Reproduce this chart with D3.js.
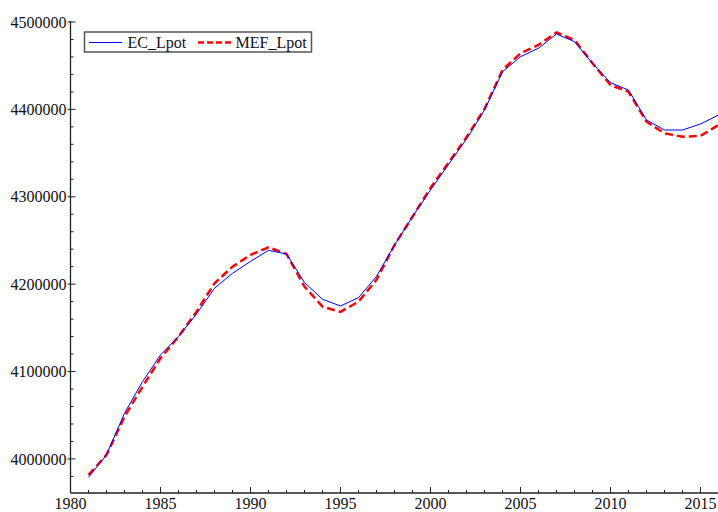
<!DOCTYPE html>
<html>
<head>
<meta charset="utf-8">
<script src="https://cdn.jsdelivr.net/npm/d3@7"></script>
<style>
  body { margin: 0; background: #fff; }
  text { font-family: "Liberation Serif", "Times New Roman", serif; fill: #111; }
</style>
</head>
<body>
<div id="chart"></div>
<script>
const years = d3.range(1981, 2017);

const ecLpot = [
  3979000, 4004600, 4052300, 4088400, 4119000, 4140000, 4165900, 4195300, 4212400, 4226000,
  4238700, 4234500, 4201900, 4182700, 4175000, 4184600, 4208900, 4244800, 4277200, 4307800,
  4337000, 4366000, 4399300, 4443100, 4460300, 4470000, 4486300, 4477500, 4452700, 4430600,
  4422100, 4387900, 4376400, 4376400, 4383300, 4393600
];

const mefLpot = [
  3981700, 4004600, 4048400, 4082700, 4115200, 4140000, 4168500, 4201000, 4220000, 4233400,
  4242200, 4234500, 4197300, 4174300, 4168200, 4180000, 4205000, 4244800, 4277200, 4310000,
  4339000, 4368000, 4400500, 4445000, 4464200, 4473700, 4488100, 4479400, 4452700, 4427900,
  4420200, 4385900, 4372600, 4368800, 4369600, 4382100
];

const xTicks = [1980, 1985, 1990, 1995, 2000, 2005, 2010, 2015];
const yTicks = [4000000, 4100000, 4200000, 4300000, 4400000, 4500000];

const width = 718, height = 512;
const margin = {top: 22, right: 0, bottom: 19, left: 70.5};

const x = d3.scaleLinear()
  .domain([1980, 2016])
  .range([margin.left, margin.left + 36 * 18]);

const y = d3.scaleLinear()
  .domain([3961000, 4500000])
  .range([height - margin.bottom, margin.top]);

const svg = d3.select('#chart')
  .append('svg')
  .attr('width', width)
  .attr('height', height);

// y axis
const yAxisG = svg.append('g')
  .attr('transform', `translate(${margin.left},0)`);

yAxisG.append('line')
  .attr('x1', 0).attr('x2', 0)
  .attr('y1', y(4500000) - 1).attr('y2', y.range()[0])
  .attr('stroke', '#222').attr('stroke-width', 1.3);

const yMinor = d3.range(3980000, 4500001, 20000).filter(v => v % 100000 !== 0);
yAxisG.selectAll('.yminor')
  .data(yMinor)
  .enter().append('line')
    .attr('x1', 0).attr('x2', 3)
    .attr('y1', d => y(d)).attr('y2', d => y(d))
    .attr('stroke', '#222');

yAxisG.selectAll('.ymajor')
  .data(yTicks)
  .enter().append('line')
    .attr('x1', -3).attr('x2', 5)
    .attr('y1', d => y(d)).attr('y2', d => y(d))
    .attr('stroke', '#222');

yAxisG.selectAll('.ylabel')
  .data(yTicks)
  .enter().append('text')
    .attr('x', -4)
    .attr('y', d => y(d))
    .attr('dy', '0.35em')
    .attr('text-anchor', 'end')
    .style('font-size', '16px')
    .text(d => d3.format('d')(d));

// x axis
const xAxisG = svg.append('g')
  .attr('transform', `translate(0,${y.range()[0]})`);

xAxisG.append('line')
  .attr('x1', margin.left).attr('x2', width)
  .attr('y1', 0).attr('y2', 0)
  .attr('stroke', '#222').attr('stroke-width', 1.3);

xAxisG.selectAll('.xminor')
  .data(d3.range(1981, 2017).filter(v => v % 5 !== 0))
  .enter().append('line')
    .attr('x1', d => x(d)).attr('x2', d => x(d))
    .attr('y1', 0).attr('y2', -3)
    .attr('stroke', '#222');

xAxisG.selectAll('.xmajor')
  .data(xTicks)
  .enter().append('line')
    .attr('x1', d => x(d)).attr('x2', d => x(d))
    .attr('y1', 0).attr('y2', -6)
    .attr('stroke', '#222');

xAxisG.selectAll('.xlabel')
  .data(xTicks)
  .enter().append('text')
    .attr('x', d => x(d))
    .attr('y', 16)
    .attr('text-anchor', 'middle')
    .style('font-size', '16px')
    .text(d => d);

// lines
const line = d3.line()
  .x((d, i) => x(years[i]))
  .y(d => y(d));

svg.append('path')
  .datum(mefLpot)
  .attr('fill', 'none')
  .attr('stroke', '#ff0000')
  .attr('stroke-width', 2.5)
  .attr('stroke-dasharray', '8,4')
  .attr('d', line);

svg.append('path')
  .datum(ecLpot)
  .attr('fill', 'none')
  .attr('stroke', '#0000ff')
  .attr('stroke-width', 1)
  .attr('d', line);

// legend
const legend = svg.append('g');

legend.append('rect')
  .attr('x', 84.5).attr('y', 32)
  .attr('width', 227).attr('height', 20)
  .attr('fill', '#fff')
  .attr('stroke', '#555')
  .attr('stroke-width', 1.5);

legend.append('line')
  .attr('x1', 89).attr('x2', 122)
  .attr('y1', 42.5).attr('y2', 42.5)
  .attr('stroke', '#0000ff').attr('stroke-width', 1);

legend.append('text')
  .attr('x', 127.5).attr('y', 48)
  .style('font-size', '16px')
  .text('EC_Lpot');

legend.append('line')
  .attr('x1', 198).attr('x2', 231)
  .attr('y1', 42.5).attr('y2', 42.5)
  .attr('stroke', '#ff0000').attr('stroke-width', 2.5)
  .attr('stroke-dasharray', '6,3');

legend.append('text')
  .attr('x', 235.5).attr('y', 48)
  .style('font-size', '16px')
  .text('MEF_Lpot');
</script>
</body>
</html>
